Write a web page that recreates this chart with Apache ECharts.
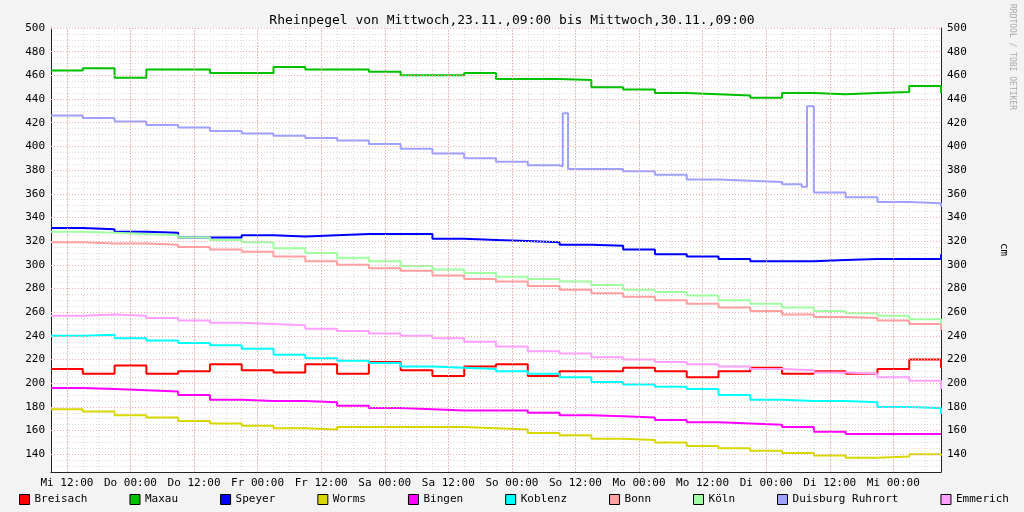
<!DOCTYPE html>
<html><head><meta charset="utf-8">
<script src="https://cdn.jsdelivr.net/npm/echarts@6/dist/echarts.min.js"></script>
<style>html,body{margin:0;padding:0;background:#f3f3f3}#c{width:1024px;height:512px}</style>
</head><body><div id="c"></div>
<script>
const hours = [0,6,12,18,24,30,36,42,48,54,60,66,72,78,84,90,96,102,108,114,120,126,132,138,144,150,156,162,168];
const tickHours = [3,15,27,39,51,63,75,87,99,111,123,135,147,159];
const tickLabels = ['Mi 12:00','Do 00:00','Do 12:00','Fr 00:00','Fr 12:00','Sa 00:00','Sa 12:00','So 00:00','So 12:00','Mo 00:00','Mo 12:00','Di 00:00','Di 12:00','Mi 00:00'];
const yMajor = [140,160,180,200,220,240,260,280,300,320,340,360,380,400,420,440,460,480,500];
const breisach = [212,208,215,208,210,216,211,209,216,208,218,211,206,214,216,206,210,210,213,210,205,210,213,208,210,208,212,220,213];
const maxau = [464,466,458,465,465,462,462,467,465,465,463,460,460,462,457,457,456,450,448,445,444,443,441,445,444,445,446,451,445];
const speyer = [331,330,328,327,323,323,325,324,325,326,326,326,322,321,320,319,317,316,313,309,307,305,303,303,304,305,305,305,309];
const worms = [178,176,173,171,168,166,164,162,161,163,163,163,163,162,161,158,156,153,152,150,147,145,143,141,139,137,138,140,139];
const bingen = [196,195,194,193,190,186,185,185,184,181,179,178,177,177,177,175,173,172,171,169,167,166,165,163,159,157,157,157,157];
const koblenz = [240,241,238,236,234,232,229,224,221,219,217,214,213,212,210,208,205,201,199,197,195,190,186,185,185,184,180,179,174];
const bonn = [319,318,318,317,315,313,311,307,303,300,297,295,291,288,286,282,279,276,273,270,267,264,261,258,256,255,253,250,245];
const koeln = [328,327,326,325,323,321,319,314,310,306,303,299,296,293,290,288,286,283,279,277,274,270,267,264,261,259,257,254,250];
const duisHours = [0,6,12,18,24,30,36,42,48,54,60,66,72,78,84,90,96,96.6,97.6,102,108,114,120,126,132,138,141.7,142.7,144,150,156,162,168];
const duisburg = [426,424,421,418,416,413,411,409,407,405,402,398,394,390,387,384,383,428,381,381,379,376,372,371,370,368,366,434,361,357,353,352,349];
const emmerich = [257,258,257,255,253,251,250,249,246,244,242,240,238,235,231,227,225,222,220,218,216,214,212,211,209,208,205,202,195];

const names = ['Breisach','Maxau','Speyer','Worms','Bingen','Koblenz','Bonn','Köln','Duisburg Ruhrort','Emmerich'];
const colors = ['#ff0000','#00c000','#0000ff','#d8d800','#ff00ff','#00ffff','#ff9f9f','#a0ffa0','#a0a0ff','#ff9fff'];
const vals = [breisach,maxau,speyer,worms,bingen,koblenz,bonn,koeln,duisburg,emmerich];
const font = 'DejaVu Sans Mono';

const series = names.map((n,i)=>({
  name:n, type:'line', step:'end', symbol:'none', z:3,
  data:(i===8?duisHours:hours).map((h,k)=>[h,vals[i][k]]),
  lineStyle:{color:colors[i],width:2}, itemStyle:{color:colors[i]}
}));
series.push({type:'line',data:[],z:1,silent:true,markLine:{silent:true,symbol:'none',label:{show:false},
  lineStyle:{color:'#f0a8a8',type:[1,2],width:1},
  data:tickHours.map(h=>({xAxis:h})).concat(yMajor.map(v=>({yAxis:v})))}});

const yAx = pos=>({type:'value',position:pos,min:125,max:500,interval:5,
  axisLine:{show:true,lineStyle:{color:'#222'}},axisTick:{show:false},
  splitLine:{show:pos==='left',lineStyle:{color:'#d8d8d8',type:[1,2]}},
  axisLabel:{fontFamily:font,fontSize:11,color:'#000',margin:6,formatter:v=>(v%20===0&&v>=140)?v:''}});

const chart = echarts.init(document.getElementById('c'));
chart.setOption({
  animation:false,
  backgroundColor:'#f3f3f3',
  title:{text:'Rheinpegel von Mittwoch,23.11.,09:00 bis Mittwoch,30.11.,09:00',left:'center',top:9,
    textStyle:{fontFamily:font,fontSize:13,fontWeight:'normal',color:'#000'}},
  grid:{left:51,right:83,top:28,bottom:40,show:true,backgroundColor:'#fff',borderWidth:0},
  legend:{bottom:2,left:14,itemGap:42,icon:'rect',itemWidth:10,itemHeight:10,
    itemStyle:{borderColor:'#000',borderWidth:1},
    textStyle:{fontFamily:font,fontSize:11,color:'#000'},data:names},
  xAxis:{type:'value',min:0,max:168,interval:3,
    axisLine:{lineStyle:{color:'#222'}},axisTick:{show:false},
    splitLine:{show:true,lineStyle:{color:'#d8d8d8',type:[1,2]}},
    axisLabel:{fontFamily:font,fontSize:11,color:'#000',margin:6,showMinLabel:true,showMaxLabel:true,interval:0,
      formatter:v=>{const i=tickHours.indexOf(v);return i>=0?tickLabels[i]:'';}}},
  yAxis:[yAx('left'),yAx('right')],
  graphic:[
    {type:'text',left:998,top:243,rotation:-Math.PI/2,style:{text:'cm',font:'11px '+font,fill:'#000'}},
    {type:'text',left:1008,top:4,rotation:-Math.PI/2,style:{text:'RRDTOOL / TOBI OETIKER',font:'8px '+font,fill:'#aaa'}}
  ],
  series:series
});
</script></body></html>
